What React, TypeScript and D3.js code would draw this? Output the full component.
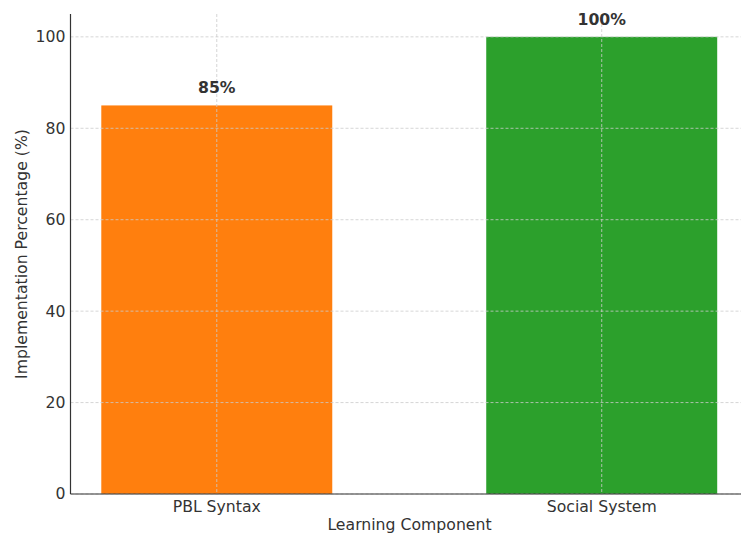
import React from "react";
import * as d3 from "d3";

const categories = ["PBL Syntax", "Social System"];
const values = [85, 100];
const barColors = ["#ff7f0e", "#2ca02c"];
const yTicks = [0, 20, 40, 60, 80, 100];

const W = 741;
const H = 536;
const left = 70.5;
const right = 748;
const top = 14;
const bottom = 494;
const font = "DejaVu Sans, sans-serif";
const fs = 15.7;
const textColor = "#333333";

export default function App() {
  const x = d3.scaleLinear().domain([-0.38, categories.length - 1 + 0.38]).range([left, right]);
  const y = d3.scaleLinear().domain([0, 105]).range([bottom, top]);
  const barWidth = 0.6;

  return (
    <svg width={W} height={H} style={{ position: "absolute", left: 0, top: 0, background: "#fff" }}>
      {/* bars */}
      {categories.map((c, i) => (
        <rect
          key={c}
          x={x(i - barWidth / 2)}
          y={y(values[i])}
          width={x(i + barWidth / 2) - x(i - barWidth / 2)}
          height={y(0) - y(values[i])}
          fill={barColors[i]}
        />
      ))}
      {/* grid */}
      {yTicks.map((t) => (
        <line key={"gy" + t} x1={left} x2={W} y1={y(t)} y2={y(t)} stroke="#cccccc" strokeWidth={0.8} strokeDasharray="3,2" />
      ))}
      {categories.map((c, i) => (
        <line key={"gx" + c} x1={x(i)} x2={x(i)} y1={top} y2={bottom} stroke="#cccccc" strokeWidth={0.8} strokeDasharray="3,2" />
      ))}
      {/* spines */}
      <line x1={left} x2={left} y1={top} y2={bottom} stroke={textColor} strokeWidth={1.2} />
      <line x1={left} x2={W} y1={bottom} y2={bottom} stroke={textColor} strokeWidth={1.2} />
      {/* y tick labels */}
      {yTicks.map((t) => (
        <text key={"ty" + t} x={left - 5} y={y(t)} dy="0.35em" textAnchor="end" fontFamily={font} fontSize={fs} fill={textColor}>
          {t}
        </text>
      ))}
      {/* x tick labels */}
      {categories.map((c, i) => (
        <text key={"tx" + c} x={x(i)} y={bottom + 17.5} textAnchor="middle" fontFamily={font} fontSize={fs} fill={textColor}>
          {c}
        </text>
      ))}
      {/* value labels */}
      {categories.map((c, i) => (
        <text key={"v" + c} x={x(i)} y={y(values[i]) - 12} textAnchor="middle" fontFamily={font} fontSize={fs} fontWeight="bold" fill={textColor}>
          {values[i]}%
        </text>
      ))}
      {/* axis titles */}
      <text x={409.5} y={530} textAnchor="middle" fontFamily={font} fontSize={fs} fill={textColor}>
        Learning Component
      </text>
      <text
        transform={`translate(27, ${(top + bottom) / 2}) rotate(-90)`}
        textAnchor="middle"
        fontFamily={font}
        fontSize={fs}
        fill={textColor}
      >
        Implementation Percentage (%)
      </text>
    </svg>
  );
}
